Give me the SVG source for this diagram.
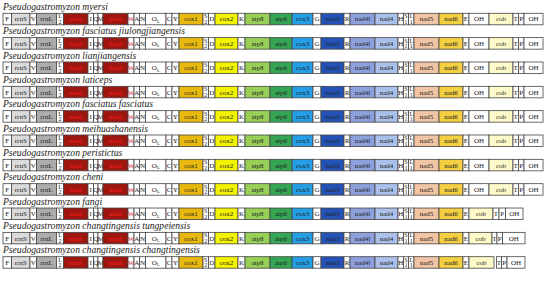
<svg xmlns="http://www.w3.org/2000/svg" xmlns:xlink="http://www.w3.org/1999/xlink" width="550" height="281" viewBox="0 0 550 281">
<style>
rect{stroke:#444;stroke-width:0.8;fill:#fff}
text{font-family:"Liberation Serif","Times New Roman",serif}
.g{font-size:7px;text-anchor:middle;fill:#222}
.s{font-size:6px;text-anchor:middle;fill:#222}
.t{font-size:9.6px;font-style:italic;fill:#222}
.rS{fill:#dadada}.rL{fill:#acacac}.n1{fill:#9e1610}.c1{fill:#e9b80f}.c2{fill:#f3f200}
.a8{fill:#97cf57}.a6{fill:#34a654}.c3{fill:#249fe6}.n3{fill:#2552b6}.n4l{fill:#8ea0db}
.n4{fill:#abc0ea}.n5{fill:#f1c4a4}.n6{fill:#f4cf42}.cb{fill:#fdf9c8}
.red{fill:#ff1a1a}.w{fill:#d81040}
</style>
<defs>
<g id="common">
<rect x="3" y="0" width="8.5" height="11.5"/><text class="g" x="7.25" y="8.2">F</text>
<rect class="rS" x="11.5" y="0" width="18.5" height="11.5"/><text class="g" x="20.75" y="8.2">rrnS</text>
<rect x="30" y="0" width="6.5" height="11.5"/><text class="g" x="33.25" y="8.2">V</text>
<rect class="rL" x="36.5" y="0" width="20" height="11.5"/><text class="g" x="46.5" y="8.2">rrnL</text>
<rect x="56.5" y="0" width="7" height="11.5"/><text class="s" x="60" y="5">L</text><text class="s" x="60" y="10.6">2</text>
<rect class="n1" x="63.5" y="0" width="24.5" height="11.5"/><text class="g red" x="75.75" y="8.2">nad1</text>
<rect x="88" y="0" width="5.5" height="11.5"/><text class="g" x="90.75" y="8.2">I</text>
<rect x="93.5" y="0" width="4.5" height="11.5"/><text class="g" x="95.75" y="8.2">Q</text>
<rect x="98" y="0" width="5" height="11.5"/><text class="g" x="100.5" y="8.2">M</text>
<rect class="n1" x="103" y="0" width="25" height="11.5"/><text class="g red" x="115.5" y="8.2">nad2</text>
<rect x="128" y="0" width="6" height="11.5"/><text class="g w" x="131" y="8.2">W</text>
<rect x="134" y="0" width="5.5" height="11.5"/><text class="g" x="136.75" y="8.2">A</text>
<rect x="139.5" y="0" width="6" height="11.5"/><text class="g" x="142.5" y="8.2">N</text>
<rect x="145.5" y="0" width="20.5" height="11.5"/><text class="g" x="155.75" y="8.2">O<tspan font-size="4.5" dy="1.5">L</tspan></text>
<rect x="166" y="0" width="6" height="11.5"/><text class="g" x="169" y="8.2">C</text>
<rect x="172" y="0" width="7" height="11.5"/><text class="g" x="175.5" y="8.2">Y</text>
<rect class="c1" x="179" y="0" width="24" height="11.5"/><text class="g" x="191" y="8.2">cox1</text>
<rect x="203" y="0" width="5.5" height="11.5"/><text class="s" x="205.75" y="5">S</text><text class="s" x="205.75" y="10.6">2</text>
<rect x="208.5" y="0" width="6.5" height="11.5"/><text class="g" x="211.75" y="8.2">D</text>
<rect class="c2" x="215" y="0" width="23" height="11.5"/><text class="g" x="226.5" y="8.2">cox2</text>
<rect x="238" y="0" width="7" height="11.5"/><text class="g" x="241.5" y="8.2">K</text>
<rect class="a8" x="245" y="0" width="25" height="11.5"/><text class="g" x="257.5" y="8.2">atp8</text>
<rect class="a6" x="270" y="0" width="22" height="11.5"/><text class="g" x="281" y="8.2">atp6</text>
<rect class="c3" x="292" y="0" width="21" height="11.5"/><text class="g" x="302.5" y="8.2">cox3</text>
<rect x="313" y="0" width="8" height="11.5"/><text class="g" x="317" y="8.2">G</text>
<rect class="n3" x="321" y="0" width="23" height="11.5"/><text class="g" x="332.5" y="8.2">nad3</text>
<rect x="344" y="0" width="6" height="11.5"/><text class="g" x="347" y="8.2">R</text>
<rect class="n4l" x="350" y="0" width="25" height="11.5"/><text class="g" x="362.5" y="8.2">nad4l</text>
<rect class="n4" x="375" y="0" width="23" height="11.5"/><text class="g" x="386.5" y="8.2">nad4</text>
<rect x="398" y="0" width="5.5" height="11.5"/><text class="g" x="400.75" y="8.2">H</text>
<rect x="403.5" y="0" width="5" height="11.5"/><text class="s" x="406" y="5">S</text><text class="s" x="406" y="10.6">1</text>
<rect x="408.5" y="0" width="5.5" height="11.5"/><text class="s" x="411.25" y="5">L</text><text class="s" x="411.25" y="10.6">1</text>
<rect class="n5" x="414" y="0" width="25" height="11.5"/><text class="g" x="426.5" y="8.2">nad5</text>
<rect class="n6" x="439" y="0" width="24" height="11.5"/><text class="g" x="451" y="8.2">nad6</text>
<rect x="463" y="0" width="6" height="11.5"/><text class="g" x="466" y="8.2">E</text>
</g>
<g id="tailA">
<rect x="469" y="0" width="20" height="11.5"/><text class="g" x="479" y="8.2">OH</text>
<rect class="cb" x="489" y="0" width="24" height="11.5"/><text class="g" x="501" y="8.2">cob</text>
<rect x="513" y="0" width="5.5" height="11.5"/><text class="g" x="515.75" y="8.2">T</text>
<rect x="518.5" y="0" width="5.5" height="11.5"/><text class="g" x="521.25" y="8.2">P</text>
<rect x="524" y="0" width="19" height="11.5"/><text class="g" x="533.5" y="8.2">OH</text>
</g>
</defs>
<g id="row1" transform="translate(0,13.3)"><text class="t" x="3" y="-3.3">Pseudogastromyzon myersi</text><use xlink:href="#common"/><use xlink:href="#tailA"/></g>
<g id="row2" transform="translate(0,37.64)"><text class="t" x="3" y="-3.3">Pseudogastromyzon fasciatus jiulongjiangensis</text><use xlink:href="#common"/><use xlink:href="#tailA"/></g>
<g id="row3" transform="translate(0,61.98)"><text class="t" x="3" y="-3.3">Pseudogastromyzon lianjiangensis</text><use xlink:href="#common"/><use xlink:href="#tailA"/></g>
<g id="row4" transform="translate(0,86.32)"><text class="t" x="3" y="-3.3">Pseudogastromyzon laticeps</text><use xlink:href="#common"/><use xlink:href="#tailA"/></g>
<g id="row5" transform="translate(0,110.66)"><text class="t" x="3" y="-3.3">Pseudogastromyzon fasciatus fasciatus</text><use xlink:href="#common"/><use xlink:href="#tailA"/></g>
<g id="row6" transform="translate(0,135)"><text class="t" x="3" y="-3.3">Pseudogastromyzon meihuashanensis</text><use xlink:href="#common"/><use xlink:href="#tailA"/></g>
<g id="row7" transform="translate(0,159.34)"><text class="t" x="3" y="-3.3">Pseudogastromyzon peristictus</text><use xlink:href="#common"/><use xlink:href="#tailA"/></g>
<g id="row8" transform="translate(0,183.68)"><text class="t" x="3" y="-3.3">Pseudogastromyzon cheni</text><use xlink:href="#common"/><use xlink:href="#tailA"/></g>
<g id="row9" transform="translate(0,208.02)"><text class="t" x="3" y="-3.3">Pseudogastromyzon fangi</text><use xlink:href="#common"/>
<rect class="cb" x="469" y="0" width="24" height="11.5"/><text class="g" x="481" y="8.2">cob</text>
<rect x="493" y="0" width="6" height="11.5"/><text class="g" x="496" y="8.2">T</text>
<rect x="499" y="0" width="6.5" height="11.5"/><text class="g" x="502.25" y="8.2">P</text>
<rect x="505.5" y="0" width="17.5" height="11.5"/><text class="g" x="514.25" y="8.2">OH</text>
</g>
<g id="row10" transform="translate(0,232.36)"><text class="t" x="3" y="-3.3">Pseudogastromyzon changtingensis tungpeiensis</text><use xlink:href="#common"/>
<rect class="cb" x="469" y="0" width="23" height="11.5"/><text class="g" x="480.5" y="8.2">cob</text>
<rect x="492" y="0" width="5" height="11.5"/><text class="g" x="494.5" y="8.2">T</text>
<rect x="497" y="0" width="5.5" height="11.5"/><text class="g" x="499.75" y="8.2">P</text>
<rect x="502.5" y="0" width="22.5" height="11.5"/><text class="g" x="513.75" y="8.2">OH</text>
</g>
<g id="row11" transform="translate(0,256.7)"><text class="t" x="3" y="-3.3">Pseudogastromyzon changtingensis changtingensis</text><use xlink:href="#common"/>
<rect class="cb" x="469" y="0" width="25" height="11.5"/><text class="g" x="481.5" y="8.2">cob</text>
<rect x="496.5" y="0" width="5" height="11.5"/><text class="g" x="499" y="8.2">T</text>
<rect x="501.5" y="0" width="5.5" height="11.5"/><text class="g" x="504.25" y="8.2">P</text>
<rect x="507" y="0" width="18" height="11.5"/><text class="g" x="516" y="8.2">OH</text>
</g>
</svg>
